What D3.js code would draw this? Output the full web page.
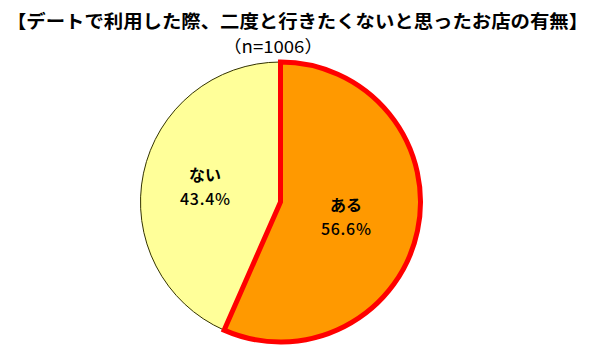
<!DOCTYPE html>
<html>
<head>
<meta charset="utf-8">
<script src="https://cdn.jsdelivr.net/npm/d3@7"></script>
<style>
  html, body { margin: 0; padding: 0; background: #fff; }
  svg { display: block; }
</style>
</head>
<body>
<svg id="chart" width="597" height="355"></svg>
<script>
const titleText = "【デートで利用した際、二度と行きたくないと思ったお店の有無】";
const subtitleText = "（n=1006）";
const categories = ["ある", "ない"];
const values = [56.6, 43.4];
const colors = ["#FF9900", "#FFFF99"];
const strokes = ["#FF0000", "#333300"];
const strokeWidths = [5, 1];

const svg = d3.select("#chart");
const cx = 280.5, cy = 202, R = 140;
const font = "'Noto Sans CJK JP', 'Noto Sans', sans-serif";

svg.append("text")
  .attr("x", 297.5).attr("y", 28)
  .attr("text-anchor", "middle")
  .attr("font-family", font)
  .attr("font-weight", "bold")
  .attr("font-size", 18)
  .attr("textLength", 581)
  .attr("lengthAdjust", "spacingAndGlyphs")
  .attr("fill", "#000")
  .text(titleText);

svg.append("text")
  .attr("x", 273).attr("y", 53)
  .attr("text-anchor", "middle")
  .attr("font-family", font)
  .attr("font-size", 17)
  .attr("textLength", 100)
  .attr("lengthAdjust", "spacingAndGlyphs")
  .attr("fill", "#000")
  .text(subtitleText);

const data = categories.map((c, i) => ({ cat: c, value: values[i], i }));
const pie = d3.pie().sort(null).value(d => d.value);
const arcs = pie(data);
const arc = d3.arc().innerRadius(0).outerRadius(R);
const labelArc = d3.arc().innerRadius(72).outerRadius(72);

const g = svg.append("g").attr("transform", `translate(${cx},${cy})`);

// thin-bordered slice first, thick red border on top
const order = arcs.slice().sort((a, b) => strokeWidths[a.data.i] - strokeWidths[b.data.i]);
g.selectAll("path.slice")
  .data(order)
  .join("path")
  .attr("class", "slice")
  .attr("d", arc)
  .attr("fill", d => colors[d.data.i])
  .attr("stroke", d => strokes[d.data.i])
  .attr("stroke-width", d => strokeWidths[d.data.i])
  .attr("stroke-linejoin", "miter");

const labels = g.selectAll("g.label")
  .data(arcs)
  .join("g")
  .attr("class", "label")
  .attr("transform", d => {
    const [x, y] = labelArc.centroid(d);
    return `translate(${x - 5},${y - 3})`;
  });

labels.append("text")
  .attr("text-anchor", "middle")
  .attr("y", -3)
  .attr("font-family", font)
  .attr("font-weight", "bold")
  .attr("font-size", 16)
  .attr("fill", "#000")
  .text(d => d.data.cat);

labels.append("text")
  .attr("text-anchor", "middle")
  .attr("y", 21)
  .attr("font-family", font)
  .attr("font-weight", 500)
  .attr("font-size", 16)
  .attr("textLength", 50)
  .attr("lengthAdjust", "spacing")
  .attr("fill", "#000")
  .text(d => d.data.value.toFixed(1) + "%");
</script>
</body>
</html>
